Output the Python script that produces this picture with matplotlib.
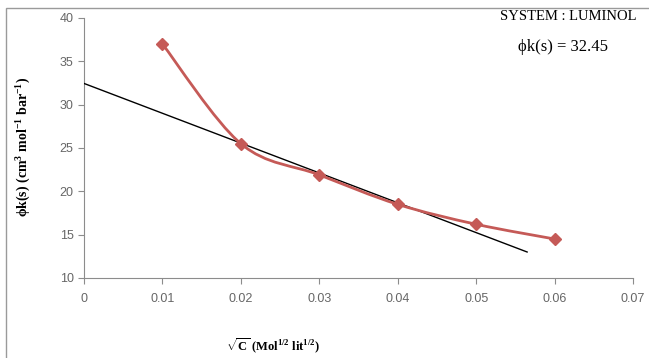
import matplotlib.pyplot as plt
from matplotlib.path import Path
from matplotlib.patches import PathPatch, Rectangle

# 数据
conc = [0.01, 0.02, 0.03, 0.04, 0.05, 0.06]
phik = [37.0, 25.5, 21.9, 18.5, 16.2, 14.5]
fit_x = [0.0, 0.0565]
fit_y = [32.45, 13.0]
x_ticks = [0, 0.01, 0.02, 0.03, 0.04, 0.05, 0.06, 0.07]
x_tick_labels = ['0', '0.01', '0.02', '0.03', '0.04', '0.05', '0.06', '0.07']
y_ticks = [10, 15, 20, 25, 30, 35, 40]

red = '#C55A57'
grey = '#8c8c8c'

plt.rcParams['mathtext.fontset'] = 'custom'
plt.rcParams['mathtext.rm'] = 'Liberation Serif'
plt.rcParams['mathtext.bf'] = 'Liberation Serif:bold'


def smooth_path(xs, ys):
    # Excel 风格的平滑曲线 (Catmull-Rom -> Bezier)
    pts = list(zip(xs, ys))
    n = len(pts)
    verts = [pts[0]]
    codes = [Path.MOVETO]
    for i in range(n - 1):
        p0 = pts[max(i - 1, 0)]
        p1 = pts[i]
        p2 = pts[i + 1]
        p3 = pts[min(i + 2, n - 1)]
        c1 = (p1[0] + (p2[0] - p0[0]) / 6, p1[1] + (p2[1] - p0[1]) / 6)
        c2 = (p2[0] - (p3[0] - p1[0]) / 6, p2[1] - (p3[1] - p1[1]) / 6)
        verts += [c1, c2, p2]
        codes += [Path.CURVE4] * 3
    return Path(verts, codes)


fig = plt.figure(figsize=(6.49, 3.58), dpi=100)

# 外框
fig.patches.append(Rectangle((6 / 649, -0.1), 1.2, 1 - 8 / 358 + 0.1, transform=fig.transFigure,
                             fill=False, edgecolor='#9a9a9a', linewidth=1.0, zorder=0))

ax = fig.add_axes([84 / 649, 1 - 278 / 358, 549 / 649, 260 / 358])
ax.patch.set_alpha(0)

ax.plot(fit_x, fit_y, color='black', linewidth=1.0, zorder=3)
ax.add_patch(PathPatch(smooth_path(conc, phik), fill=False, edgecolor=red, linewidth=2.0, zorder=4))
ax.plot(conc, phik, linestyle='none', marker='D', markersize=6.5, color=red, zorder=5)

ax.set_xlim(0, 0.07)
ax.set_ylim(10, 40)
ax.set_xticks(x_ticks)
ax.set_xticklabels(x_tick_labels)
ax.set_yticks(y_ticks)

for s in ['top', 'right']:
    ax.spines[s].set_visible(False)
for s in ['left', 'bottom']:
    ax.spines[s].set_color(grey)
    ax.spines[s].set_linewidth(0.8)
ax.tick_params(axis='both', colors=grey, labelcolor='#666666', labelsize=9, length=4, width=0.8)
ax.tick_params(axis='x', pad=7)
for lab in ax.get_xticklabels() + ax.get_yticklabels():
    lab.set_family('Liberation Sans')

fig.text(23 / 649, 1 - 147 / 358, r'ϕk(s) (cm$^{\mathbf{3}}$ mol$^{\mathbf{-1}}$ bar$^{\mathbf{-1}}$)',
         rotation=90, ha='center', va='center', fontsize=10, fontweight='bold', family='Liberation Serif')
fig.text(273 / 649, 1 - 346 / 358, r'$\sqrt{\mathbf{C}}$ (Mol$^{\mathbf{1/2}}$ lit$^{\mathbf{1/2}}$)',
         ha='center', va='center', fontsize=9, fontweight='bold', family='Liberation Serif')

fig.text(500 / 649, 1 - 17 / 358, 'SYSTEM : LUMINOL', ha='left', va='center', fontsize=10.5,
         family='Liberation Serif')
fig.text(518 / 649, 1 - 47 / 358, 'ϕk(s) = 32.45', ha='left', va='center', fontsize=12,
         family='Liberation Serif')

plt.savefig('out.png', dpi=100)
